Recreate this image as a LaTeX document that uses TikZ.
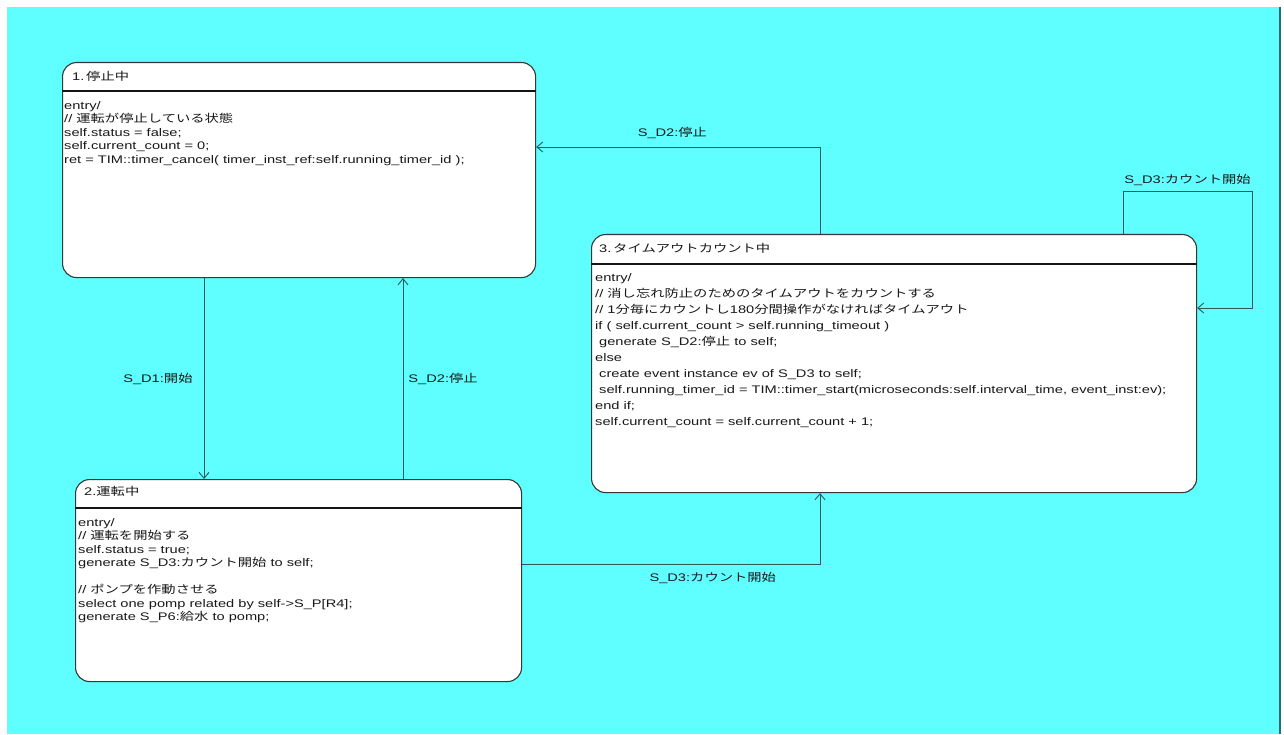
\documentclass[tikz,border=0pt]{standalone}
\usepackage{fontspec}
\setmainfont{Liberation Sans}
\newfontfamily\lat{Liberation Sans}[FakeStretch=1.33]
\newfontfamily\jpf{Noto Sans CJK JP}[FakeStretch=1.3]
\usetikzlibrary{arrows.meta}
\definecolor{bg}{RGB}{96,255,255}
\definecolor{connc}{RGB}{45,88,92}
\definecolor{boxline}{RGB}{55,55,55}
\definecolor{hdrline}{RGB}{20,20,20}
\definecolor{txt}{RGB}{25,25,25}
\definecolor{edgeline}{RGB}{40,110,110}
\newcommand\jtxt[1]{{\jpf #1}}
\begin{document}
\begin{tikzpicture}[x=1pt,y=-1pt,
  font=\fontsize{11}{13.5}\selectfont\lat,
  statebox/.style={draw=boxline, line width=1.1pt, fill=white, rounded corners=14pt, anchor=north west, inner sep=0pt, shape=rectangle},
  hdr/.style={draw=hdrline, line width=1.3pt},
  body/.style={anchor=north west, align=left, inner sep=0pt, text=txt},
  stitle/.style={anchor=west, inner sep=0pt, text=txt},
  conn/.style={draw=connc, line width=0.9pt, -{Straight Barb[length=6pt,width=10pt]}},
  lbl/.style={inner sep=0pt, text=txt}]
\useasboundingbox (0,0) rectangle (1284,735);
\fill[bg] (7,7) rectangle (1279,734);
\draw[edgeline, line width=1.6pt] (1280,7) -- (1280,734);

% states
\node[statebox, minimum width=473pt, minimum height=215pt] (s1) at (62,62) {};
\node[statebox, minimum width=446pt, minimum height=202pt] (s2) at (75,479) {};
\node[statebox, minimum width=605pt, minimum height=258pt] (s3) at (591,234) {};

% helper coordinates
\coordinate (h1) at (0,91);
\coordinate (h2) at (0,508);
\coordinate (h3) at (0,264);
\coordinate (x820) at (820,0);
\coordinate (x204) at (204,0);
\coordinate (x403) at (403,0);
\coordinate (y147) at (0,147);
\coordinate (y564) at (0,564);
\coordinate (L1) at (1123,191);
\coordinate (L2) at (1252,191);
\coordinate (L3) at (1252,308);

\draw[hdr] (s1.west |- h1) -- (s1.east |- h1);
\draw[hdr] (s2.west |- h2) -- (s2.east |- h2);
\draw[hdr] (s3.west |- h3) -- (s3.east |- h3);

% titles
\node[stitle] (t1) at (72,76) {1.\,\jtxt{停止中}};
\node[stitle] (t2) at (84,491) {2.\jtxt{運転中}};
\node[stitle] (t3) at (599,248) {3.\,\jtxt{タイムアウトカウント中}};

% bodies
\node[body] (b1) at (64,101) {entry/\\
// \jtxt{運転が停止している状態}\\
self.status = false;\\
self.current\_count = 0;\\
ret = TIM::timer\_cancel( timer\_inst\_ref:self.running\_timer\_id );};

\node[body] (b2) at (78,518) {entry/\\
// \jtxt{運転を開始する}\\
self.status = true;\\
generate S\_D3:\jtxt{カウント開始} to self;\\
\strut\\
// \jtxt{ポンプを作動させる}\\
select one pomp related by self->S\_P[R4];\\
generate S\_P6:\jtxt{給水} to pomp;};

\node[body, font=\fontsize{11}{16}\selectfont\lat] (b3) at (595,273) {entry/\\
// \jtxt{消し忘れ防止のためのタイムアウトをカウントする}\\
// 1\jtxt{分毎にカウントし}180\jtxt{分間操作がなければタイムアウト}\\
if ( self.current\_count > self.running\_timeout )\\
\hspace*{4pt}generate S\_D2:\jtxt{停止} to self;\\
else\\
\hspace*{4pt}create event instance ev of S\_D3 to self;\\
\hspace*{4pt}self.running\_timer\_id = TIM::timer\_start(microseconds:self.interval\_time, event\_inst:ev);\\
end if;\\
self.current\_count = self.current\_count + 1;};

% transitions
\draw[conn] (s3.north -| x820) |- node[lbl, pos=0.76, above=8pt] {S\_D2:\jtxt{停止}} (s1.east |- y147);
\draw[conn] (s1.south -| x204) -- node[lbl, midway, left=11pt] {S\_D1:\jtxt{開始}} (s2.north -| x204);
\draw[conn] (s2.north -| x403) -- node[lbl, midway, right=5pt] {S\_D2:\jtxt{停止}} (s1.south -| x403);
\draw[conn] (s2.east |- y564) -| node[lbl, pos=0.32, below=8pt] {S\_D3:\jtxt{カウント開始}} (s3.south -| x820);
\draw[conn] (s3.north -| L1) -- (L1) -- node[lbl, midway, above=5pt] {S\_D3:\jtxt{カウント開始}} (L2) -- (L3) -- (s3.east |- L3);
\end{tikzpicture}
\end{document}
